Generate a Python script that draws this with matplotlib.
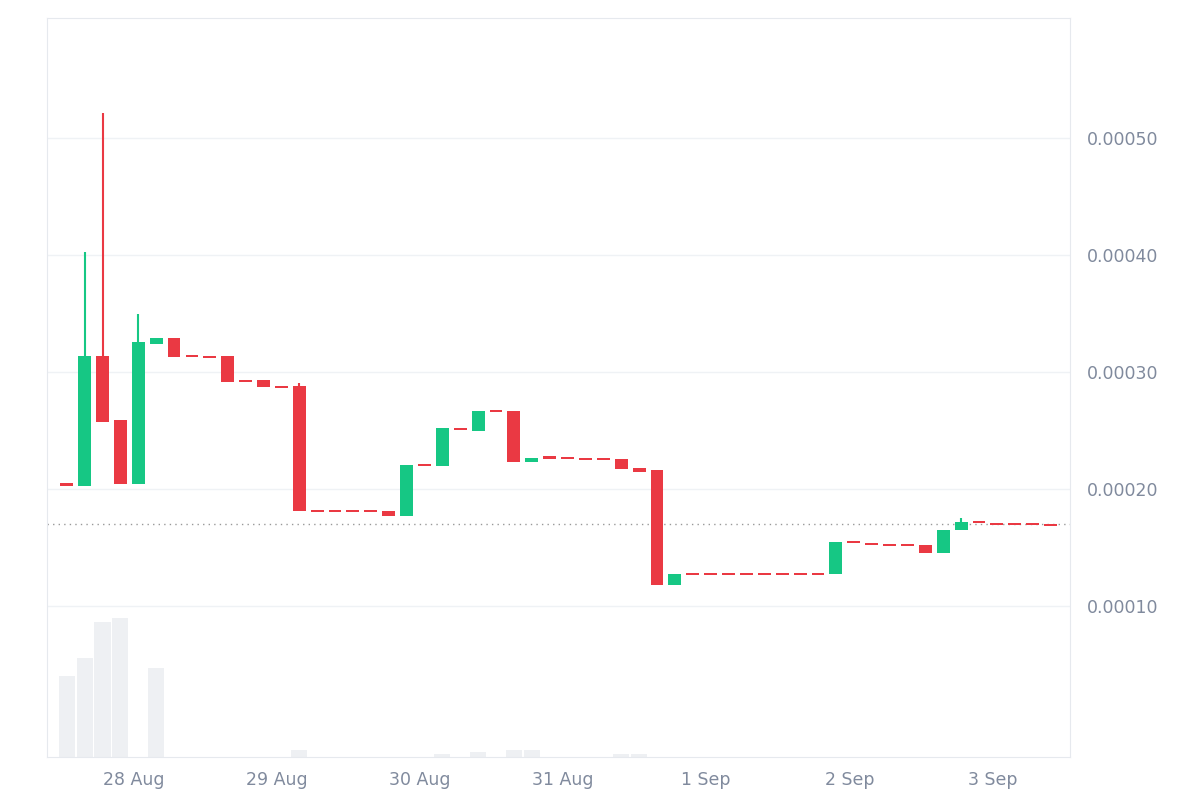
import matplotlib
matplotlib.use("Agg")
import matplotlib.pyplot as plt
import numpy as np

# 3-hour candles, starting 27 Aug ~12:45 (x in days from 28 Aug 00:00)
opens = [0.000205, 0.000203, 0.000314, 0.000259, 0.000204, 0.000324, 0.000329, 0.000314,
         0.000313, 0.000314, 0.000293, 0.000293, 0.000288, 0.000288, 0.000181, 0.000181,
         0.000181, 0.000181, 0.000181, 0.000177, 0.000221, 0.000220, 0.000252, 0.000250,
         0.000267, 0.000267, 0.000223, 0.000227, 0.000227, 0.000226, 0.000226, 0.000226,
         0.000218, 0.000216, 0.000118, 0.000127, 0.000127, 0.000127, 0.000127, 0.000127,
         0.000127, 0.000127, 0.000127, 0.000127, 0.000155, 0.000154, 0.000152, 0.000152,
         0.000152, 0.000145, 0.000165, 0.000172, 0.000171, 0.000170, 0.000170, 0.000170]
closes = [0.000203, 0.000314, 0.000257, 0.000204, 0.000326, 0.000329, 0.000313, 0.000313,
          0.000313, 0.000292, 0.000292, 0.000287, 0.000287, 0.000181, 0.000181, 0.000181,
          0.000181, 0.000181, 0.000177, 0.000221, 0.000221, 0.000252, 0.000251, 0.000267,
          0.000266, 0.000223, 0.000227, 0.000227, 0.000226, 0.000226, 0.000225, 0.000217,
          0.000215, 0.000118, 0.000127, 0.000127, 0.000127, 0.000127, 0.000127, 0.000127,
          0.000127, 0.000127, 0.000127, 0.000155, 0.000154, 0.000152, 0.000152, 0.000152,
          0.000145, 0.000165, 0.000172, 0.000171, 0.000170, 0.000170, 0.000170, 0.000169]
highs = [None] * len(opens)
highs[1] = 0.000403
highs[2] = 0.000522
highs[4] = 0.000350
highs[13] = 0.000291
highs[50] = 0.000175
volumes = {0: 81, 1: 99, 2: 135, 3: 139, 5: 89, 13: 7, 21: 3, 23: 5, 25: 7, 26: 7, 31: 3, 32: 3}
last_price = 0.000170

day_labels = ["28 Aug", "29 Aug", "30 Aug", "31 Aug", "1 Sep", "2 Sep", "3 Sep"]
price_ticks = [0.0001, 0.0002, 0.0003, 0.0004, 0.0005]

GREEN = "#16c784"
RED = "#ea3943"
GRID = "#eff2f5"
TXT = "#808a9d"

fig = plt.figure(figsize=(12, 8), dpi=100)
ax = fig.add_axes([0.039, 0.054, 0.853, 0.9235])
axv = ax.twinx()
axv.set_zorder(0)
ax.set_zorder(1)
ax.patch.set_visible(False)

x0 = -0.46875
step = 0.125
w = step * 0.72
for i, (o, c) in enumerate(zip(opens, closes)):
    x = x0 + i * step
    col = GREEN if c > o else RED
    lo, hi = min(o, c), max(o, c)
    hgt = max(hi - lo, 0.0000018)
    ax.bar(x, hgt, bottom=lo if hi - lo > 0.0000018 else (o + c) / 2 - hgt / 2,
           width=w, color=col, linewidth=0, zorder=3)
    if highs[i] is not None:
        ax.vlines(x, hi, highs[i], color=col, linewidth=1.5, zorder=2)

for i, v in volumes.items():
    axv.bar(x0 + i * step, v, width=w * 1.25, color="#eef0f3", linewidth=0)
axv.set_ylim(0, 739)
axv.axis("off")

ax.axhline(last_price, color="#999999", linestyle=(0, (1, 3)), linewidth=1, zorder=1)

ax.set_xlim(-0.608, 6.545)
ax.set_ylim(-0.000029, 0.000603)
ax.set_xticks(range(len(day_labels)))
ax.set_xticklabels(day_labels)
ax.yaxis.tick_right()
ax.set_yticks(price_ticks)
ax.set_yticklabels([f"{t:.5f}" for t in price_ticks])
ax.tick_params(colors=TXT, labelsize=12.5, length=0, pad=10)
ax.tick_params(axis="y", pad=12)
ax.grid(axis="y", color=GRID, linewidth=1)
ax.set_axisbelow(True)
for s in ax.spines.values():
    s.set_color("#e6e9ee")
for s in axv.spines.values():
    s.set_visible(False)

fig.savefig("out.png")
